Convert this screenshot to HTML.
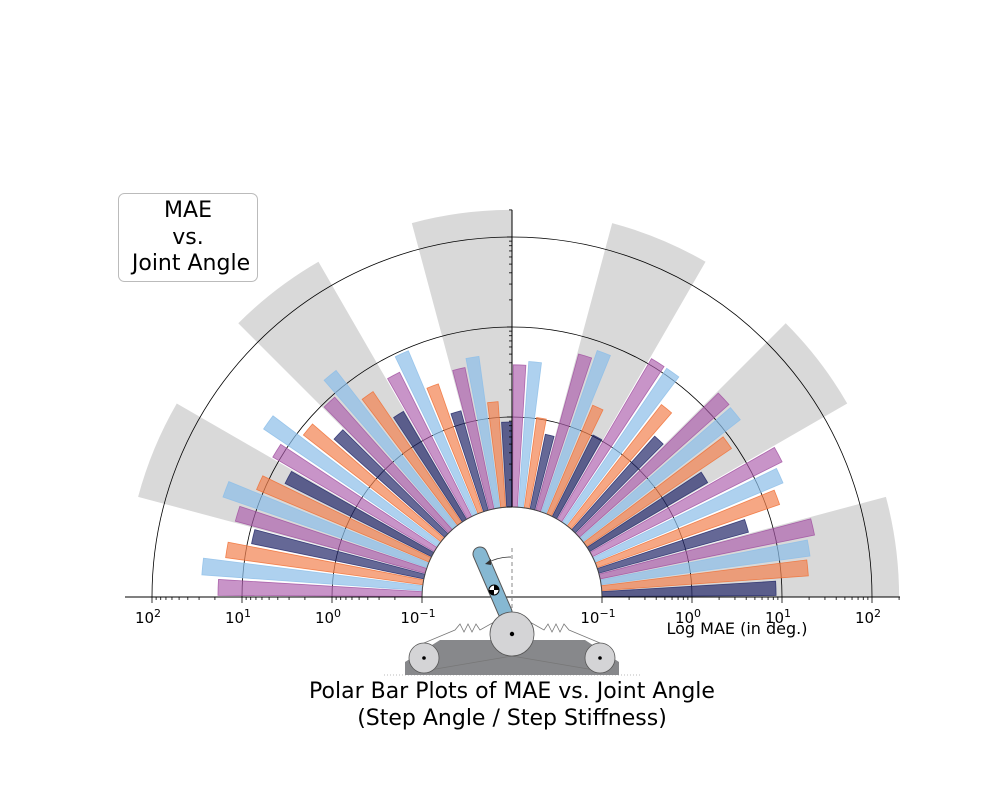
<!DOCTYPE html>
<html><head><meta charset="utf-8">
<style>
html,body{margin:0;padding:0;background:#fff;}
#wrap{position:relative;width:1000px;height:800px;font-family:"DejaVu Sans","Liberation Sans",sans-serif;}
svg text{font-family:"DejaVu Sans","Liberation Sans",sans-serif;}
</style></head>
<body>
<div id="wrap">
<svg id="chart" width="1000" height="800" viewBox="0 0 1000 800">
  <g id="bg"></g>
  <g id="grid"></g>
  <g id="bars"></g>
  <g id="axes"></g>
  <g id="robot">
    <line x1="384" y1="675" x2="640" y2="675" stroke="#bbb" stroke-dasharray="1,2"/>
    <polygon points="405,675 405,662 440,640 585,640 619,662 619,675" fill="#87888b"/>
    <polyline points="424,643 455,630 460,624 464,632 468,624 472,632 476,624 480,630 512,612" fill="none" stroke="#777" stroke-width="0.8"/>
    <polyline points="424,671 512,656" fill="none" stroke="#777" stroke-width="0.8"/>
    <polyline points="600,643 569,630 564,624 560,632 556,624 552,632 548,624 544,630 512,612" fill="none" stroke="#777" stroke-width="0.8"/>
    <polyline points="600,671 512,656" fill="none" stroke="#777" stroke-width="0.8"/>
    <circle cx="424" cy="658" r="15" fill="#d4d4d6" stroke="#555" stroke-width="0.8"/>
    <circle cx="424" cy="658" r="1.8" fill="#000"/>
    <circle cx="600" cy="658" r="15" fill="#d4d4d6" stroke="#555" stroke-width="0.8"/>
    <circle cx="600" cy="658" r="1.8" fill="#000"/>
    <line x1="512" y1="548" x2="512" y2="612" stroke="#888" stroke-dasharray="4,3"/>
    <line x1="480" y1="554" x2="505" y2="612" stroke="#555" stroke-width="15" stroke-linecap="round"/>
    <line x1="480" y1="554" x2="505" y2="612" stroke="#86b8d2" stroke-width="13" stroke-linecap="round"/>
    <circle cx="494" cy="590" r="5" fill="#fff" stroke="#000" stroke-width="1"/>
    <path d="M494,590 L494,585 A5,5 0 0 1 499,590 Z M494,590 L494,595 A5,5 0 0 1 489,590 Z" fill="#000"/>
    <circle cx="512" cy="634" r="22" fill="#d4d4d6" stroke="#555" stroke-width="0.8"/>
    <circle cx="512" cy="634" r="2.2" fill="#000"/>
    <path d="M511,557 Q498,557 487,563" fill="none" stroke="#333" stroke-width="0.8"/>
    <polygon points="485,564 491,559 491,565" fill="#333"/>
  </g>
  <text x="737" y="634" font-size="16" text-anchor="middle">Log MAE (in deg.)</text>
  <text x="512" y="698" font-size="22" text-anchor="middle">Polar Bar Plots of MAE vs. Joint Angle</text>
  <text x="512" y="725" font-size="22" text-anchor="middle">(Step Angle / Step Stiffness)</text>
  <g>
    <rect x="118.5" y="193.5" width="139" height="88" rx="6" fill="#fff" stroke="#bbb" stroke-width="1"/>
    <text x="188" y="217" font-size="22" text-anchor="middle">MAE</text>
    <text x="188" y="244" font-size="22" text-anchor="middle">vs.</text>
    <text x="191" y="270" font-size="22" text-anchor="middle">Joint Angle</text>
  </g>
</svg>
</div>
<script>
// Data: MAE per joint-angle group (12 groups of 15°), 4 series
const groupStarts = [0,15,30,45,60,75,90,105,120,135,150,165];
const seriesNavy   = [8.6,5.3,3.3,2.45,1.03,0.70,0.88,1.4,2.45,4.4,6.6,9.0];
const seriesOrange = [20,14,8.8,5.1,2.05,1.03,1.5,3.2,5.7,8.6,12,16.3];
const seriesBlue   = [22,18.5,16.3,11.7,7.9,4.2,5.0,9.3,15.4,21.5,25,28.5];
const seriesPurple = [27,22.7,16.7,11.7,6.3,3.8,4.0,6.2,9.3,12,15.4,18.5];
const bgStarts = [0,30,60,90,120,150];
const bgValues = [200,200,200,200,200,200];
const tickValues = [0.1,1,10,100];
const tickLabels = ["10","10","10","10"];
const tickExps = ["\u22121","0","1","2"];

const NS="http://www.w3.org/2000/svg";
const CX=512, CY=597, R0=90;
function rScale(v){return 180+90*Math.log10(v);}
function pt(r,deg){const a=deg*Math.PI/180;return [CX+r*Math.cos(a),CY-r*Math.sin(a)];}
function sector(r1,r2,a1,a2){
  const p1=pt(r1,a1),p2=pt(r2,a1),p3=pt(r2,a2),p4=pt(r1,a2);
  const lg=(a2-a1)>180?1:0;
  return `M${p1} L${p2} A${r2},${r2} 0 ${lg} 0 ${p3} L${p4} A${r1},${r1} 0 ${lg} 1 ${p1} Z`;
}
function mk(tag,attrs,parent){const e=document.createElementNS(NS,tag);for(const k in attrs)e.setAttribute(k,attrs[k]);parent.appendChild(e);return e;}

const bg=document.getElementById('bg');
bgStarts.forEach((s,i)=>{
  const p=mk('path',{d:sector(R0,rScale(bgValues[i]),s,s+15),fill:'#d9d9d9'},bg);
  
  
});

const grid=document.getElementById('grid');
[1,10,100].forEach(v=>{
  const r=rScale(v);
  const c=mk('path',{d:`M${CX+r},${CY} A${r},${r} 0 0 0 ${CX-r},${CY}`,fill:'none',stroke:'#000','stroke-width':0.8},grid);
  
  
});

const series=[
  {vals:seriesNavy,fill:'rgba(35,40,105,0.7)',stroke:'rgba(35,40,105,0.8)',name:'navy'},
  {vals:seriesOrange,fill:'rgba(242,130,80,0.7)',stroke:'rgba(240,110,50,0.8)',name:'orange'},
  {vals:seriesBlue,fill:'rgba(140,190,232,0.7)',stroke:'rgba(140,190,232,0.8)',name:'lightblue'},
  {vals:seriesPurple,fill:'rgba(170,90,170,0.65)',stroke:'rgba(160,80,160,0.8)',name:'purple'}
];
const bars=document.getElementById('bars');
groupStarts.forEach((g,gi)=>{
  series.forEach((s,si)=>{
    const c=g+1.875+3.75*si;
    const p=mk('path',{d:sector(R0,rScale(s.vals[gi]),c-1.55,c+1.55),fill:s.fill,stroke:s.stroke,'stroke-width':0.8},bars);
    
    
  });
});

const axes=document.getElementById('axes');
mk('path',{d:`M${CX+R0},${CY} A${R0},${R0} 0 0 0 ${CX-R0},${CY}`,fill:'none',stroke:'#444','stroke-width':1},axes);
const xl=mk('line',{x1:125,y1:CY,x2:900,y2:CY,stroke:'#000','stroke-width':1},axes);


const yl=mk('line',{x1:CX,y1:CY-R0,x2:CX,y2:CY-rScale(200),stroke:'#000','stroke-width':1},axes);


for(let e=-1;e<=2;e++){
  for(let m=1;m<10;m++){
    const v=m*Math.pow(10,e); if(v>200)break;
    const r=rScale(v), len=m===1?6:3;
    [CX-r,CX+r].forEach(x=>{ if(x>=125&&x<=900) mk('line',{x1:x,y1:CY,x2:x,y2:CY+len,stroke:'#000','stroke-width':0.8},axes);});
    if(r>=R0) mk('line',{x1:CX,y1:CY-r,x2:CX-(m===1?5:3),y2:CY-r,stroke:'#000','stroke-width':0.8},axes);
  }
}
tickValues.forEach((v,i)=>{
  const r=rScale(v);
  [CX-r,CX+r].forEach(x=>{
    const t=mk('text',{x:x-4,y:623,'font-size':15,'text-anchor':'middle'},axes);
    t.textContent=tickLabels[i];
    const sp=mk('tspan',{dy:-6,'font-size':11},t);
    sp.textContent=tickExps[i];
    
    
  });
});
</script>
</body></html>
